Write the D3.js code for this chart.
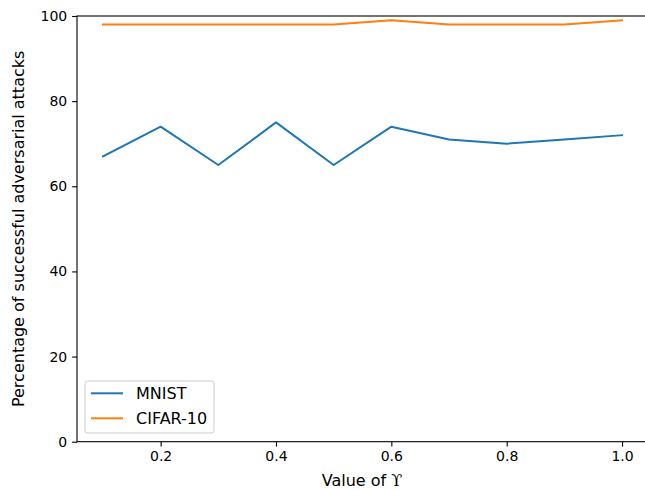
<!DOCTYPE html>
<html>
<head>
<meta charset="utf-8">
<script src="https://cdn.jsdelivr.net/npm/d3@7/dist/d3.min.js"></script>
<style>
  html, body { margin: 0; padding: 0; background: #fff; }
  svg { display: block; font-family: "DejaVu Sans", sans-serif; }
</style>
</head>
<body>
<svg id="chart" width="645" height="490"></svg>
<script>
// Attack success rate as a function of Upsilon
const upsilon = [0.1, 0.2, 0.3, 0.4, 0.5, 0.6, 0.7, 0.8, 0.9, 1.0];
const mnist   = [67, 74, 65, 75, 65, 74, 71, 70, 71, 72];
const cifar10 = [98, 98, 98, 98, 98, 99, 98, 98, 98, 99];
const xTicks = [0.2, 0.4, 0.6, 0.8, 1.0];
const yTicks = [0, 20, 40, 60, 80, 100];
const seriesNames = ["MNIST", "CIFAR-10"];
const seriesColors = ["#1f77b4", "#ff7f0e"];

const svg = d3.select("#chart");
const plotL = 77, plotR = 648, plotT = 16, plotB = 441.7;

const x = d3.scaleLinear().domain([0.055, 1.045]).range([plotL, plotR]);
const y = d3.scaleLinear().domain([0, 100]).range([plotB, plotT]);

const tickFont = 14;
const labelFont = 16;

// axes
const xAxis = svg.append("g")
  .attr("transform", `translate(0,${plotB})`)
  .call(d3.axisBottom(x).tickValues(xTicks).tickFormat(d3.format(".1f")).tickSize(4.9).tickPadding(4.9));
const yAxis = svg.append("g")
  .attr("transform", `translate(${plotL},0)`)
  .call(d3.axisLeft(y).tickValues(yTicks).tickFormat(d3.format("d")).tickSize(4.9).tickPadding(4.9));

[xAxis, yAxis].forEach(g => {
  g.select(".domain").remove();
  g.selectAll("line").attr("stroke", "#000").attr("stroke-width", 1.1);
  g.selectAll("text").attr("font-size", tickFont).attr("fill", "#000")
    .attr("font-family", "DejaVu Sans, sans-serif");
});

// spines
svg.append("rect")
  .attr("x", plotL).attr("y", plotT).attr("width", plotR - plotL).attr("height", plotB - plotT)
  .attr("fill", "none").attr("stroke", "#000").attr("stroke-width", 1.1);

// lines
const line = d3.line().x((d, i) => x(upsilon[i])).y(d => y(d));
[mnist, cifar10].forEach((s, k) => {
  svg.append("path").datum(s)
    .attr("fill", "none")
    .attr("stroke", seriesColors[k])
    .attr("stroke-width", 2)
    .attr("stroke-linejoin", "round")
    .attr("stroke-linecap", "square")
    .attr("d", line);
});

// axis labels
svg.append("text")
  .attr("x", 362).attr("y", 486)
  .attr("text-anchor", "middle").attr("font-size", labelFont).attr("fill", "#000")
  .text("Value of ")
  .append("tspan").attr("font-family", "DejaVu Serif, serif").text("\u03D2");

svg.append("text")
  .attr("transform", `translate(24,${(plotT + plotB) / 2}) rotate(-90)`)
  .attr("text-anchor", "middle").attr("font-size", labelFont).attr("fill", "#000")
  .text("Percentage of successful adversarial attacks");

// legend
const lg = svg.append("g");
lg.append("rect")
  .attr("x", 85).attr("y", 381).attr("width", 129).attr("height", 52).attr("rx", 2.5)
  .attr("fill", "#fff").attr("fill-opacity", 0.8).attr("stroke", "#ccc").attr("stroke-width", 1);
seriesNames.forEach((name, i) => {
  const ly = 393.3 + i * 25;
  lg.append("line").attr("x1", 91).attr("x2", 123).attr("y1", ly).attr("y2", ly)
    .attr("stroke", seriesColors[i]).attr("stroke-width", 2);
  lg.append("text").attr("x", 136).attr("y", ly + 5.8)
    .attr("font-size", labelFont).attr("fill", "#000").text(name);
});
</script>
</body>
</html>
